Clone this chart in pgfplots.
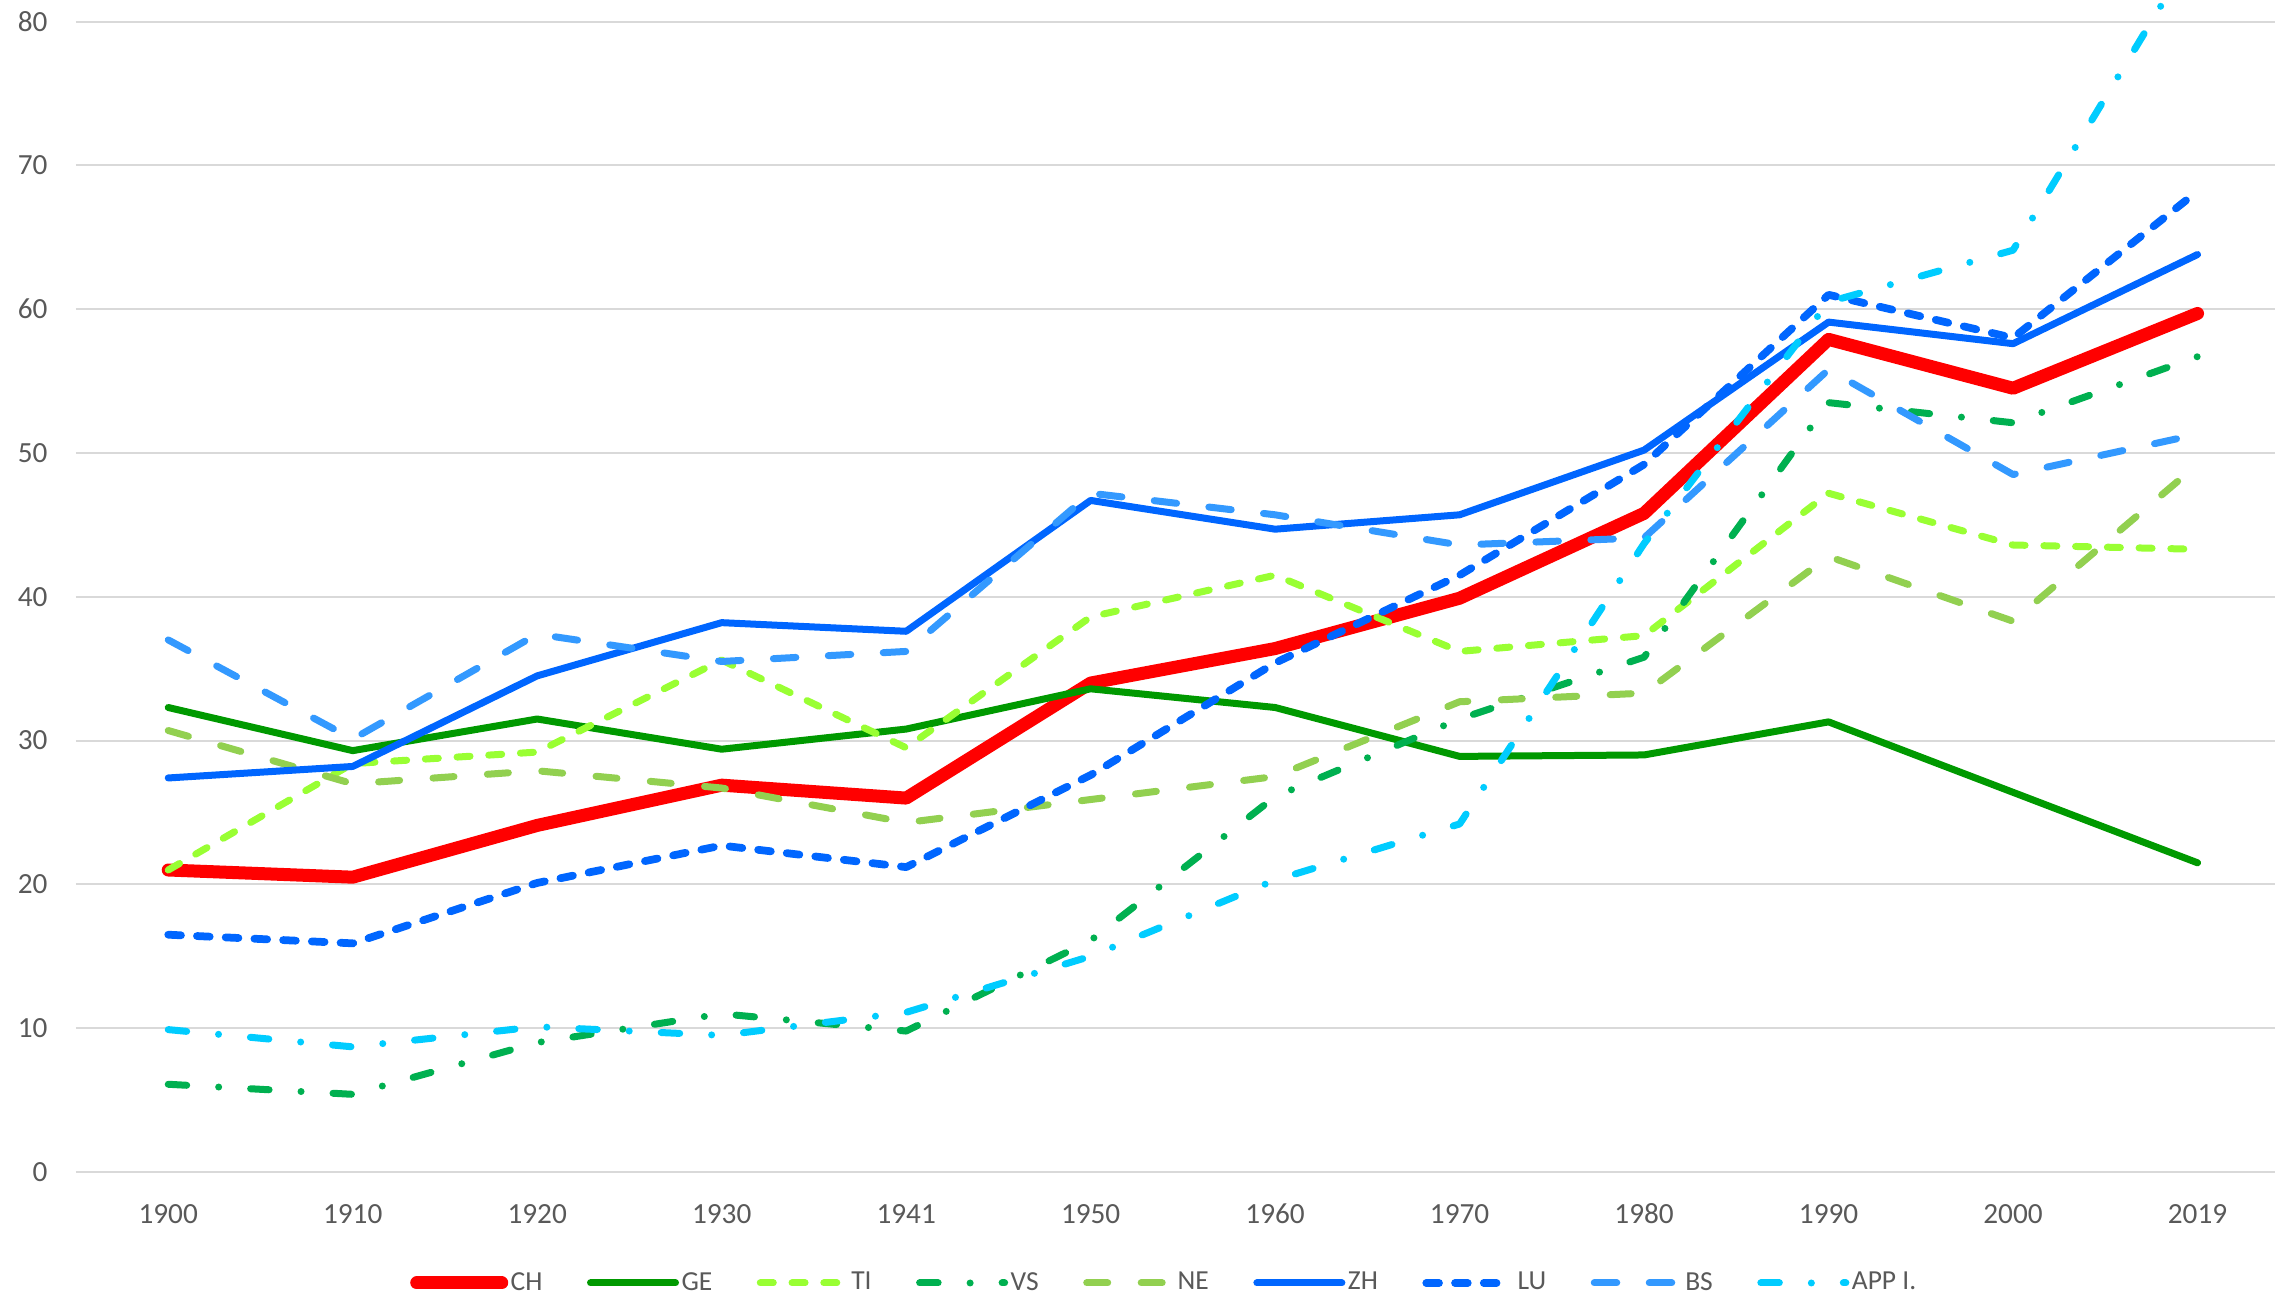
\documentclass[border=0pt]{standalone}
\usepackage{fontspec}
\setmainfont{Carlito}
\usepackage{pgfplots}
\pgfplotsset{compat=1.18}
\definecolor{cCH}{HTML}{FF0000}
\definecolor{cGE}{HTML}{009900}
\definecolor{cTI}{HTML}{99FF33}
\definecolor{cVS}{HTML}{00B050}
\definecolor{cNE}{HTML}{92D050}
\definecolor{cZH}{HTML}{0066FF}
\definecolor{cLU}{HTML}{0066FF}
\definecolor{cBS}{HTML}{3399FF}
\definecolor{cAPP}{HTML}{00CCFF}
\definecolor{gridgray}{HTML}{D9D9D9}
\definecolor{labelgray}{HTML}{595959}
\begin{document}
\begin{tikzpicture}
\useasboundingbox (-30.4pt,-49.2pt) rectangle (879.6pt,468.8pt);
\begin{axis}[
  at={(0,0)}, anchor=south west,
  scale only axis, width=879.6pt, height=468.8pt,
  xmin=-0.5, xmax=11.42, ymin=0, ymax=81.5,
  xtick={0,...,11},
  xticklabels={1900,1910,1920,1930,1941,1950,1960,1970,1980,1990,2000,2019},
  ytick={0,10,...,80},
  ymajorgrids, grid style={color=gridgray, line width=0.8pt},
  axis line style={draw=none},
  major tick length=0pt,
  tick label style={font=\fontsize{11.7}{14}\selectfont, text=labelgray},
  /pgf/number format/assume math mode=true,
  yticklabel style={anchor=east, inner sep=0pt, xshift=-11.2pt},
  xticklabel style={anchor=center, inner sep=0pt, yshift=-16.8pt},
  every axis plot/.append style={line cap=round, line join=round, line width=2.8pt},
  legend columns=-1,
  legend style={draw=none, fill=none, at={(0.495,0)}, anchor=center, yshift=-44.4pt,
    font=\fontsize{11}{13}\selectfont, text=labelgray,
    nodes={inner sep=1pt},
    /tikz/every even column/.append style={column sep=16.8pt}},
  legend image code/.code={\draw[#1] (0pt,0pt) -- (34pt,0pt);},
]
\addplot[color=cCH, line width=5.2pt] coordinates {(0,21.0) (1,20.5) (2,24.1) (3,26.9) (4,26.0) (5,34.0) (6,36.4) (7,39.9) (8,45.8) (9,57.9) (10,54.5) (11,59.7)};
\addlegendentry{CH}
\addplot[color=cGE] coordinates {(0,32.3) (1,29.3) (2,31.5) (3,29.4) (4,30.8) (5,33.6) (6,32.3) (7,28.9) (8,29.0) (9,31.3) (10,26.4) (11,21.5)};
\addlegendentry{GE}
\addplot[color=cTI, dash pattern=on 5.2pt off 7.5pt] coordinates {(0,21.0) (1,28.4) (2,29.2) (3,35.6) (4,29.5) (5,38.6) (6,41.5) (7,36.2) (8,37.3) (9,47.2) (10,43.6) (11,43.3)};
\addlegendentry{TI}
\addplot[color=cVS, dash pattern=on 7.4pt off 12.8pt on 0pt off 12.8pt] coordinates {(0,6.1) (1,5.4) (2,9.0) (3,11.0) (4,9.8) (5,16.1) (6,26.1) (7,31.5) (8,35.8) (9,53.5) (10,52.1) (11,56.7)};
\addlegendentry{VS}
\addplot[color=cNE, dash pattern=on 8.4pt off 13.4pt] coordinates {(0,30.7) (1,27.0) (2,27.9) (3,26.7) (4,24.3) (5,25.9) (6,27.5) (7,32.7) (8,33.3) (9,42.8) (10,38.3) (11,49.2)};
\addlegendentry{NE}
\addplot[color=cZH] coordinates {(0,27.4) (1,28.2) (2,34.5) (3,38.2) (4,37.6) (5,46.7) (6,44.7) (7,45.7) (8,50.2) (9,59.1) (10,57.6) (11,63.8)};
\addlegendentry{ZH}
\addplot[color=cLU, line width=3.1pt, dash pattern=on 5.1pt off 6.4pt] coordinates {(0,16.5) (1,15.9) (2,20.1) (3,22.7) (4,21.2) (5,27.6) (6,35.4) (7,41.5) (8,49.2) (9,61.0) (10,58.0) (11,68.2)};
\addlegendentry{LU}
\addplot[color=cBS, dash pattern=on 9pt off 13pt] coordinates {(0,37.0) (1,30.1) (2,37.4) (3,35.5) (4,36.2) (5,47.2) (6,45.7) (7,43.6) (8,44.1) (9,55.8) (10,48.5) (11,51.3)};
\addlegendentry{BS}
\addplot[color=cAPP, dash pattern=on 7.4pt off 12.8pt on 0pt off 12.8pt] coordinates {(0,9.9) (1,8.7) (2,10.1) (3,9.5) (4,11.1) (5,15.0) (6,20.3) (7,24.2) (8,43.7) (9,60.5) (10,64.1) (11,85.3)};
\addlegendentry{APP I.}
\end{axis}
\end{tikzpicture}
\end{document}
